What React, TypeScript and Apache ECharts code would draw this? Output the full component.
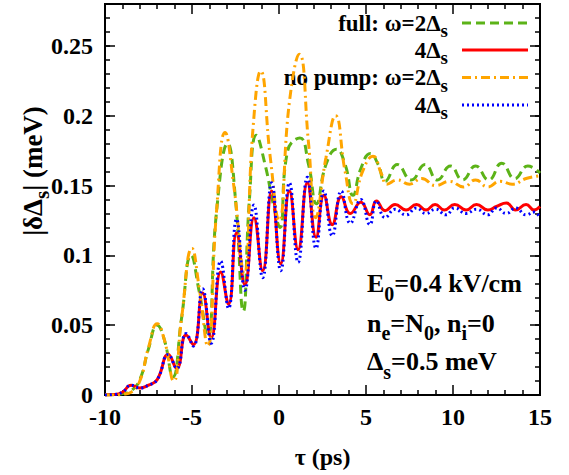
import React, { useEffect, useRef } from "react";
import * as echarts from "echarts";

// ---- data ----
const fullTwo: [number, number][] = [
  [-10, 0], [-9.5, 0.0003], [-9, 0.001], [-8.5, 0.003], [-8, 0.011], [-7.5, 0.033],
  [-7.0, 0.05], [-6.6, 0.04], [-6.1, 0.013], [-5.6, 0.055], [-5.05, 0.1], [-4.6, 0.075],
  [-4.1, 0.042], [-3.6, 0.13], [-2.95, 0.18], [-2.5, 0.14], [-2.05, 0.06], [-1.7, 0.14],
  [-1.3, 0.186], [-0.8, 0.165], [-0.3, 0.135], [0.05, 0.12], [0.5, 0.175], [1.2, 0.184],
  [1.7, 0.165], [2.15, 0.137], [2.7, 0.165], [3.3, 0.176], [3.8, 0.165], [4.25, 0.143],
  [4.7, 0.162], [5.25, 0.173], [5.7, 0.165], [6.1, 0.153], [6.8, 0.165], [7.6, 0.154],
  [8.4, 0.165], [9.1, 0.154], [9.85, 0.164], [10.55, 0.154], [11.3, 0.164], [12.05, 0.154],
  [12.8, 0.166], [13.55, 0.155], [14.3, 0.164], [15, 0.159],
];
const fullFour: [number, number][] = [
  [-10, 0], [-9.5, 0.0003], [-9, 0.002], [-8.5, 0.007], [-8.0, 0.005], [-7.5, 0.007],
  [-7.0, 0.011], [-6.36, 0.029], [-5.88, 0.019], [-5.34, 0.043], [-4.92, 0.036], [-4.39, 0.073],
  [-3.9, 0.041], [-3.35, 0.088], [-2.9, 0.065], [-2.44, 0.116], [-1.96, 0.079], [-1.44, 0.127],
  [-0.94, 0.089], [-0.42, 0.146], [0.1, 0.094], [0.6, 0.146], [1.1, 0.104], [1.63, 0.152],
  [2.13, 0.113], [2.58, 0.143], [3.06, 0.122], [3.58, 0.142], [4.1, 0.13], [4.7, 0.138],
  [5.22, 0.129], [5.6, 0.139], [6.1, 0.132], [6.67, 0.1365], [7.3, 0.1325], [7.9, 0.1365],
  [8.45, 0.1325], [8.97, 0.1365], [9.5, 0.1325], [10.1, 0.1365], [10.75, 0.1325], [11.35, 0.1365],
  [12.0, 0.1325], [12.5, 0.135], [13.07, 0.1375], [13.6, 0.1325], [14.2, 0.1365], [14.65, 0.1325],
  [15, 0.135],
];
const noPumpTwo: [number, number][] = [
  [-10, 0], [-9.5, 0], [-9, 0.0005], [-8.5, 0.002], [-8, 0.01], [-7.5, 0.034],
  [-7.0, 0.051], [-6.6, 0.04], [-6.05, 0.01], [-5.6, 0.055], [-5.0, 0.105], [-4.6, 0.078],
  [-4.1, 0.035], [-3.6, 0.13], [-3.1, 0.188], [-2.6, 0.15], [-2.0, 0.087], [-1.5, 0.19],
  [-1.05, 0.232], [-0.5, 0.17], [0.0, 0.125], [0.6, 0.21], [1.17, 0.244], [1.7, 0.18],
  [2.1, 0.127], [2.7, 0.17], [3.25, 0.2], [3.8, 0.16], [4.25, 0.137], [4.8, 0.16],
  [5.4, 0.171], [5.9, 0.158], [6.2, 0.151], [6.8, 0.154], [7.5, 0.151], [8.2, 0.155],
  [9.0, 0.15], [9.8, 0.153], [10.6, 0.149], [11.3, 0.154], [12.0, 0.149], [12.7, 0.153],
  [13.4, 0.151], [14.2, 0.155], [15, 0.157],
];
const noPumpFour: [number, number][] = [
  [-10, 0], [-9.5, 0.0003], [-9, 0.002], [-8.5, 0.007], [-8.0, 0.005], [-7.5, 0.007],
  [-7.0, 0.011], [-6.36, 0.029], [-5.88, 0.019], [-5.34, 0.044], [-4.92, 0.035], [-4.39, 0.076],
  [-3.9, 0.037], [-3.35, 0.096], [-2.9, 0.062], [-2.44, 0.126], [-1.96, 0.075], [-1.44, 0.136],
  [-0.94, 0.084], [-0.42, 0.152], [0.1, 0.089], [0.6, 0.152], [1.1, 0.095], [1.63, 0.156],
  [2.13, 0.105], [2.58, 0.146], [3.06, 0.114], [3.58, 0.146], [4.1, 0.123], [4.7, 0.14],
  [5.22, 0.122], [5.6, 0.139], [6.1, 0.127], [6.67, 0.133], [7.3, 0.129], [7.9, 0.134],
  [8.45, 0.13], [9.0, 0.133], [9.6, 0.129], [10.1, 0.134], [10.75, 0.13], [11.35, 0.133],
  [12.0, 0.129], [12.5, 0.134], [13.07, 0.13], [13.6, 0.134], [14.2, 0.129], [14.65, 0.131],
  [15, 0.127],
];

const seriesNames = ["full: ω=2Δs", "full: 4Δs", "no pump: ω=2Δs", "no pump: 4Δs"];
const legendLabels = ["{a|full: ω=2Δ}{s|s}", "{a|4Δ}{s|s}", "{a|no pump: ω=2Δ}{s|s}", "{a|4Δ}{s|s}"];
const annotationLines = ["{a|E}{s|0}{a|=0.4 kV/cm}", "{a|n}{s|e}{a|=N}{s|0}{a|, n}{s|i}{a|=0}", "{a|Δ}{s|s}{a|=0.5 meV}"];
const yTitle = "{a||δΔ}{s|s}{a|| (meV)}";
const xTitle = "τ (ps)";
const xTicks = { min: -10, max: 15, step: 5 };
const yTicks = { min: 0, max: 0.28, step: 0.05, minorStep: 0.01 };

const FONT = "'Liberation Serif', 'Times New Roman', serif";
const colors = ["#5cb318", "#ff0000", "#ffa500", "#0000ff"];
const dashes: any[] = [[9, 5], "solid", [9, 4, 2, 4], [2, 3]];

function richPair(main: number, sub: number, lh: number, subH: number) {
  return {
    a: { fontFamily: FONT, fontWeight: "bold", fontSize: main, fill: "#000", verticalAlign: "bottom", lineHeight: lh },
    s: { fontFamily: FONT, fontWeight: "bold", fontSize: sub, fill: "#000", verticalAlign: "bottom", lineHeight: subH, height: subH },
  };
}

export default function App() {
  const ref = useRef<HTMLDivElement>(null);
  useEffect(() => {
    if (!ref.current) return;
    const chart = echarts.init(ref.current, undefined, { renderer: "svg" });
    const label = { fontFamily: FONT, fontWeight: "bold" as const, fontSize: 24, color: "#000" };
    const tickStyle = { color: "#000", width: 1.5 };
    const xBase = (pos: "bottom" | "top", show: boolean) => ({
      type: "value", position: pos, min: xTicks.min, max: xTicks.max, interval: xTicks.step,
      axisLine: { show: true, onZero: false, lineStyle: { color: "#000", width: 2 } },
      axisTick: { show: true, inside: true, length: 10, lineStyle: tickStyle },
      minorTick: { show: true, splitNumber: 5, length: 5, lineStyle: tickStyle },
      splitLine: { show: false }, minorSplitLine: { show: false },
      axisLabel: { show, margin: 10, ...label },
    });
    const yBase = (pos: "left" | "right", show: boolean) => ({
      type: "value", position: pos, min: yTicks.min, max: yTicks.max, interval: yTicks.step,
      axisLine: { show: true, onZero: false, lineStyle: { color: "#000", width: 2 } },
      axisTick: { show: true, inside: true, length: 10, lineStyle: tickStyle },
      splitLine: { show: false },
      axisLabel: { show, margin: 12, showMaxLabel: false, ...label },
    });
    const yMinor = (pos: "left" | "right") => ({
      type: "value", position: pos, min: yTicks.min, max: yTicks.max, interval: yTicks.minorStep,
      axisLine: { show: false, onZero: false },
      axisTick: { show: true, inside: true, length: 5, lineStyle: tickStyle },
      splitLine: { show: false }, axisLabel: { show: false },
    });
    const data = [fullTwo, fullFour, noPumpTwo, noPumpFour];
    const rowY = [22.5, 49.5, 77, 104.5];
    const graphic: any[] = [];
    legendLabels.forEach((t, i) => {
      graphic.push({
        type: "text", x: 448, y: rowY[i],
        style: { text: t, align: "right", verticalAlign: "middle", rich: richPair(23, 19, 24, 8) },
      });
      graphic.push({
        type: "line", shape: { x1: 462, y1: rowY[i] + 0.5, x2: 528, y2: rowY[i] + 0.5 },
        style: { stroke: colors[i], lineWidth: 3, lineDash: dashes[i] === "solid" ? null : dashes[i] },
      });
    });
    const annY = [283.5, 323, 361.5];
    annotationLines.forEach((t, i) => {
      graphic.push({ type: "text", x: 367, y: annY[i], style: { text: t, align: "left", verticalAlign: "middle", rich: richPair(26, 20, 26, 6) } });
    });
    graphic.push({
      type: "text", x: 32, y: 171, rotation: Math.PI / 2,
      style: { text: yTitle, align: "center", verticalAlign: "middle", rich: richPair(27, 21, 28, 9) },
    });

    chart.setOption({
      animation: false,
      backgroundColor: "#fff",
      grid: { left: 105, right: 29, top: 4, bottom: 80, show: true, borderColor: "#000", borderWidth: 2 },
      xAxis: [
        { ...xBase("bottom", true), name: xTitle, nameLocation: "middle", nameGap: 50, nameTextStyle: label },
        xBase("top", false),
      ],
      yAxis: [yBase("left", true), yBase("right", false), yMinor("left"), yMinor("right")],
      series: data.map((d, i) => ({
        name: seriesNames[i], type: "line", data: d, xAxisIndex: 0, yAxisIndex: 0,
        showSymbol: false, smooth: 0.5, z: 2 + i,
        lineStyle: { color: colors[i], width: 3, type: dashes[i] },
      })),
      graphic,
    });
    return () => chart.dispose();
  }, []);
  return <div ref={ref} style={{ position: "fixed", left: 0, top: 0, width: 569, height: 475 }} />;
}
